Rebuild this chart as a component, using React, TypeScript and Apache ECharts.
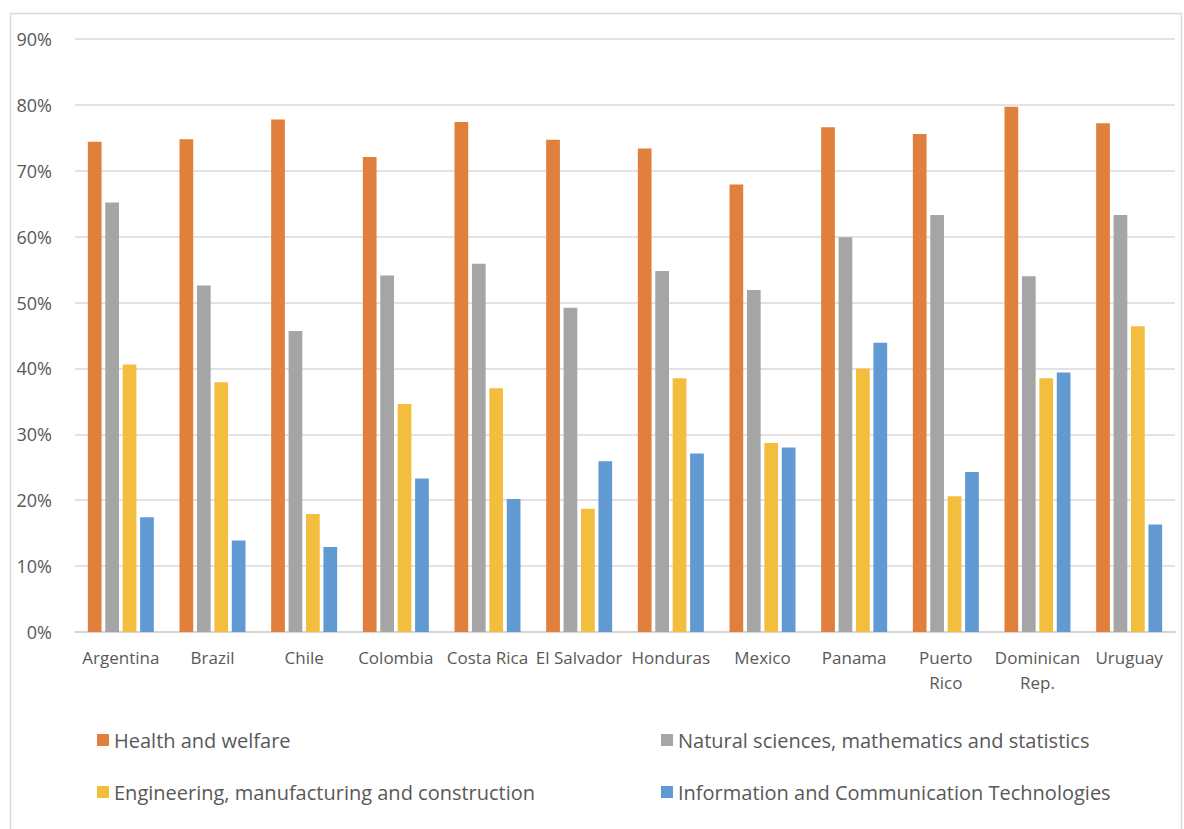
import React, { useEffect, useRef } from "react";
import * as echarts from "echarts";

const categories = [
  "Argentina", "Brazil", "Chile", "Colombia", "Costa Rica", "El Salvador",
  "Honduras", "Mexico", "Panama", "Puerto\nRico", "Dominican\nRep.", "Uruguay",
];
const seriesNames = [
  "Health and welfare",
  "Natural sciences, mathematics and statistics",
  "Engineering, manufacturing and construction",
  "Information and Communication Technologies",
];
const health = [74.4, 74.8, 77.8, 72.1, 77.4, 74.7, 73.4, 67.9, 76.6, 75.6, 79.7, 77.2];
const natural = [65.2, 52.6, 45.7, 54.1, 55.9, 49.2, 54.8, 51.9, 59.9, 63.3, 54.0, 63.3];
const engineering = [40.6, 37.9, 17.9, 34.6, 37.0, 18.7, 38.5, 28.7, 40.0, 20.6, 38.5, 46.4];
const ict = [17.4, 13.9, 12.9, 23.3, 20.2, 25.9, 27.1, 28.0, 43.9, 24.3, 39.4, 16.3];
const yTicks = [0, 10, 20, 30, 40, 50, 60, 70, 80, 90];
const colors = ["#E17F3C", "#A5A5A5", "#F3BE3E", "#6199D2"];

export default function App() {
  const ref = useRef<HTMLDivElement>(null);
  useEffect(() => {
    if (!ref.current) return;
    const chart = echarts.init(ref.current, undefined, { renderer: "svg" });
    const font = "Open Sans";
    const legendPos = [
      { left: 97, top: 730 },
      { left: 661, top: 730 },
      { left: 97, top: 782 },
      { left: 661, top: 782 },
    ];
    const allData = [health, natural, engineering, ict];
    chart.setOption({
      animation: false,
      backgroundColor: "#ffffff",
      grid: { left: 75, right: 9, top: 39, bottom: 197, containLabel: false },
      legend: seriesNames.map((n, i) => ({
        data: [n],
        left: legendPos[i].left,
        top: legendPos[i].top,
        icon: "rect",
        itemWidth: 12,
        itemHeight: 12,
        itemGap: 6,
        padding: 0,
        selectedMode: false,
        textStyle: { fontFamily: font, fontSize: 20, color: "#595959", padding: [0, 0, 0, 0] },
      })),
      xAxis: {
        type: "category",
        data: categories,
        axisTick: { show: false },
        axisLine: { lineStyle: { color: "#D0D0D0", width: 1.5 } },
        axisLabel: {
          interval: 0,
          fontFamily: font,
          fontSize: 17,
          color: "#595959",
          margin: 13,
          lineHeight: 25,
        },
      },
      yAxis: {
        type: "value",
        min: 0,
        max: 90,
        interval: 10,
        axisLine: { show: false },
        axisTick: { show: false },
        splitLine: { lineStyle: { color: "#DADADA", width: 1.5 } },
        axisLabel: {
          fontFamily: font,
          fontSize: 18,
          color: "#595959",
          margin: 23,
          formatter: (v: number) => (yTicks.includes(v) ? v + "%" : ""),
        },
      },
      graphic: [
        {
          type: "rect",
          shape: { x: 10.5, y: 13.5, width: 1171, height: 830 },
          style: { fill: "none", stroke: "#D9D9D9", lineWidth: 1.5 },
          silent: true,
        },
      ],
      series: seriesNames.map((n, i) => ({
        name: n,
        type: "bar",
        data: allData[i],
        itemStyle: { color: colors[i] },
        barCategoryGap: "28%",
        barGap: "27%",
      })),
    });
    return () => chart.dispose();
  }, []);
  return (
    <div
      ref={ref}
      style={{ position: "fixed", left: 0, top: 0, width: 1184, height: 829 }}
    />
  );
}
